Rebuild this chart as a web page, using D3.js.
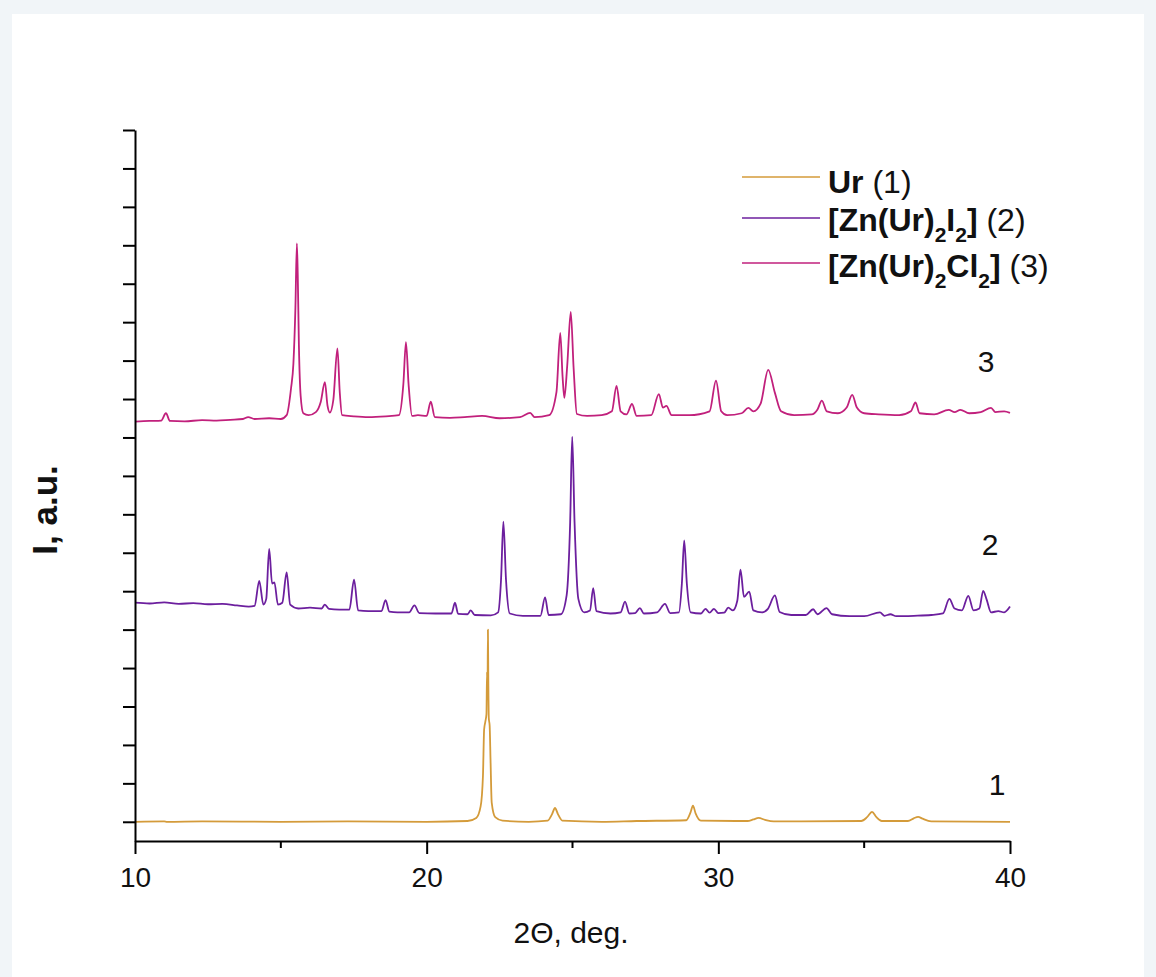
<!DOCTYPE html>
<html>
<head>
<meta charset="utf-8">
<script src="https://cdn.jsdelivr.net/npm/d3@7"></script>
<style>
  body { margin: 0; background: #f1f5f8; }
  svg { display: block; font-family: "Liberation Sans", Arial, sans-serif; }
</style>
</head>
<body>
<svg id="chart" width="1156" height="977"></svg>
<script>
// 2theta ticks
const xMajorTicks = [10, 20, 30, 40];
const xMinorTicks = [15, 25, 35];
// y axis has unlabeled ticks, one per a.u.
const yTicks = d3.range(0, 19);

// vertical offsets of the stacked patterns (a.u.)
const offsets = [0, 5.3, 10.38];
const seriesNames = ['Ur (1)', '[Zn(Ur)2I2] (2)', '[Zn(Ur)2Cl2] (3)'];
const seriesColors = ['#d49b3a', '#6c1f9e', '#c1207c'];
const seriesNumbers = ['1', '2', '3'];

// Ur (1): [2theta, intensity]
const urData = [
  [10, 0], [11.0, 0.01], [11.1, 0], [12.3, 0.01], [15, 0], [17.3, 0.01], [20, 0],
  [21.4, 0.02], [21.7, 0.1], [21.85, 0.4], [21.93, 1.2], [21.97, 2.4], [22.01, 2.6],
  [22.05, 2.8], [22.07, 3.9], [22.085, 3.2], [22.10, 5.0], [22.115, 3.6], [22.13, 2.7],
  [22.16, 2.5], [22.19, 1.6], [22.23, 0.5], [22.35, 0.12], [22.6, 0.03], [23.5, 0],
  [24.15, 0.03], [24.3, 0.2], [24.4, 0.36], [24.5, 0.2], [24.65, 0.03], [26, 0],
  [27.2, 0.02], [28.9, 0.04], [29.05, 0.25], [29.13, 0.42], [29.22, 0.22], [29.4, 0.03],
  [31.0, 0.02], [31.2, 0.06], [31.38, 0.1], [31.6, 0.05], [31.9, 0.01], [34.9, 0.02],
  [35.1, 0.12], [35.27, 0.26], [35.42, 0.12], [35.6, 0.02], [36.5, 0.02], [36.7, 0.09],
  [36.85, 0.13], [37.0, 0.08], [37.3, 0.01], [40, 0]
];

// [Zn(Ur)2I2] (2)
const znIData = [
  [10, 0.40], [10.5, 0.38], [11, 0.41], [11.5, 0.37], [12, 0.39], [12.5, 0.36], [13, 0.37],
  [13.5, 0.33], [13.9, 0.30], [14.1, 0.32], [14.26, 0.97], [14.4, 0.35], [14.5, 0.5],
  [14.60, 1.80], [14.7, 0.9], [14.78, 0.93], [14.9, 0.35], [15.05, 0.4], [15.20, 1.19],
  [15.32, 0.35], [15.6, 0.25], [16.0, 0.27], [16.4, 0.25], [16.51, 0.35], [16.65, 0.24],
  [17.0, 0.22], [17.35, 0.22], [17.51, 1.00], [17.65, 0.2], [18.0, 0.18], [18.45, 0.18],
  [18.59, 0.47], [18.72, 0.17], [19.0, 0.15], [19.4, 0.15], [19.58, 0.33], [19.75, 0.13],
  [20.3, 0.12], [20.85, 0.12], [20.97, 0.40], [21.08, 0.11], [21.4, 0.1], [21.51, 0.2],
  [21.65, 0.08], [22.2, 0.07], [22.45, 0.15], [22.55, 1.0], [22.63, 2.51], [22.72, 1.0],
  [22.85, 0.12], [23.3, 0.06], [23.9, 0.06], [24.06, 0.54], [24.18, 0.08], [24.6, 0.1],
  [24.8, 0.6], [24.92, 2.5], [24.99, 4.72], [25.07, 2.5], [25.2, 0.5], [25.4, 0.15],
  [25.6, 0.2], [25.71, 0.78], [25.82, 0.18], [26.3, 0.12], [26.65, 0.15], [26.80, 0.43],
  [26.95, 0.12], [27.15, 0.13], [27.31, 0.26], [27.45, 0.12], [27.9, 0.15], [28.17, 0.37],
  [28.35, 0.13], [28.65, 0.15], [28.75, 0.9], [28.83, 2.02], [28.92, 0.9], [29.05, 0.15],
  [29.4, 0.12], [29.56, 0.24], [29.7, 0.14], [29.85, 0.24], [30.0, 0.13], [30.2, 0.14],
  [30.34, 0.27], [30.5, 0.2], [30.65, 0.45], [30.76, 1.26], [30.88, 0.55], [31.06, 0.69],
  [31.2, 0.2], [31.5, 0.15], [31.7, 0.24], [31.94, 0.59], [32.1, 0.16], [32.5, 0.08],
  [33.0, 0.08], [33.25, 0.23], [33.4, 0.1], [33.71, 0.26], [33.9, 0.1], [34.5, 0.05],
  [35.0, 0.05], [35.54, 0.15], [35.7, 0.06], [35.9, 0.1], [36.1, 0.05], [36.7, 0.06],
  [37.3, 0.08], [37.7, 0.12], [37.92, 0.50], [38.1, 0.25], [38.35, 0.2], [38.57, 0.58],
  [38.75, 0.2], [38.95, 0.25], [39.08, 0.71], [39.2, 0.48], [39.35, 0.15], [39.6, 0.18],
  [39.8, 0.15], [40, 0.30]
];

// [Zn(Ur)2Cl2] (3)
const znClData = [
  [10, 0.03], [10.5, 0.05], [10.9, 0.06], [11.06, 0.25], [11.2, 0.05], [11.7, 0.04],
  [12.3, 0.07], [12.8, 0.06], [13.26, 0.08], [13.7, 0.1], [13.88, 0.15], [14.1, 0.1],
  [14.6, 0.12], [15.0, 0.10], [15.2, 0.2], [15.35, 0.9], [15.43, 1.53], [15.5, 3.0],
  [15.55, 4.67], [15.58, 3.85], [15.62, 2.0], [15.68, 0.7], [15.77, 0.25], [15.95, 0.2],
  [16.2, 0.28], [16.37, 0.55], [16.51, 1.06], [16.6, 0.45], [16.68, 0.27], [16.8, 0.6],
  [16.94, 1.94], [17.02, 0.8], [17.1, 0.2], [17.5, 0.17], [18.0, 0.15], [18.6, 0.17],
  [19.05, 0.2], [19.2, 1.0], [19.29, 2.10], [19.38, 1.0], [19.5, 0.18], [19.7, 0.2],
  [20.0, 0.18], [20.14, 0.55], [20.28, 0.15], [20.8, 0.13], [21.3, 0.15], [21.9, 0.18],
  [22.5, 0.12], [23.2, 0.15], [23.55, 0.26], [23.7, 0.15], [24.2, 0.2], [24.45, 0.8],
  [24.58, 2.34], [24.66, 1.2], [24.72, 0.65], [24.82, 1.5], [24.94, 2.89], [25.04, 1.4],
  [25.15, 0.23], [25.5, 0.18], [26.0, 0.2], [26.35, 0.3], [26.51, 0.96], [26.65, 0.3],
  [26.85, 0.22], [27.04, 0.49], [27.2, 0.18], [27.7, 0.2], [27.96, 0.75], [28.1, 0.4],
  [28.22, 0.44], [28.4, 0.2], [29.0, 0.2], [29.7, 0.3], [29.92, 1.10], [30.1, 0.3],
  [30.3, 0.2], [30.8, 0.25], [31.03, 0.39], [31.2, 0.3], [31.45, 0.5], [31.71, 1.38],
  [31.94, 0.78], [32.15, 0.3], [32.6, 0.2], [33.2, 0.22], [33.4, 0.35], [33.55, 0.58],
  [33.72, 0.3], [34.1, 0.25], [34.4, 0.4], [34.59, 0.73], [34.75, 0.4], [35.0, 0.25],
  [35.5, 0.22], [36.2, 0.2], [36.6, 0.3], [36.76, 0.53], [36.9, 0.25], [37.4, 0.22],
  [37.9, 0.34], [38.1, 0.28], [38.3, 0.34], [38.6, 0.25], [39.0, 0.28], [39.35, 0.39],
  [39.5, 0.28], [39.8, 0.3], [40, 0.26]
];

const seriesData = [urData, znIData, znClData];

class XrdChart {
  constructor(_config) {
    this.config = {
      parentElement: _config.parentElement,
      width: 1156,
      height: 977
    };
    this.initVis();
  }

  initVis() {
    let vis = this;
    vis.svg = d3.select(vis.config.parentElement);

    // light page with white card behind the plot
    vis.svg.append('rect')
      .attr('width', vis.config.width).attr('height', vis.config.height)
      .attr('fill', '#f1f5f8');
    vis.svg.append('rect')
      .attr('x', 12).attr('y', 14)
      .attr('width', 1132).attr('height', 963)
      .attr('fill', '#ffffff');

    vis.xScale = d3.scaleLinear().domain([10, 40]).range([135, 1010]);
    vis.yScale = d3.scaleLinear().domain([-0.5, 18]).range([841, 130]);

    vis.line = d3.line()
      .x(d => vis.xScale(d[0]))
      .y(d => vis.yScale(d[1] + d[2]))
      .curve(d3.curveMonotoneX);

    vis.renderVis();
  }

  renderVis() {
    let vis = this;

    // patterns, top one drawn last
    seriesData.forEach((data, i) => {
      vis.svg.append('path')
        .datum(data.map(d => [d[0], d[1], offsets[i]]))
        .attr('fill', 'none')
        .attr('stroke', seriesColors[i])
        .attr('stroke-width', 1.8)
        .attr('stroke-linejoin', 'round')
        .attr('d', vis.line);
    });

    // x axis: major ticks labeled, minor ticks shorter
    const xAxis = vis.svg.append('g')
      .attr('transform', `translate(0,${vis.yScale(-0.5)})`)
      .call(d3.axisBottom(vis.xScale).tickValues(xMajorTicks).tickSize(13).tickSizeOuter(0).tickPadding(13));
    xAxis.select('.domain').attr('stroke-width', 2);
    xAxis.selectAll('.tick line').attr('stroke-width', 2);
    xAxis.selectAll('.tick text')
      .attr('font-size', 28).attr('font-family', '"Liberation Sans", Arial, sans-serif').attr('fill', '#111');

    vis.svg.append('g')
      .attr('transform', `translate(0,${vis.yScale(-0.5)})`)
      .selectAll('line')
      .data(xMinorTicks)
      .join('line')
        .attr('x1', d => vis.xScale(d)).attr('x2', d => vis.xScale(d))
        .attr('y1', 0).attr('y2', 7)
        .attr('stroke', '#000').attr('stroke-width', 2);

    // y axis without labels
    const yAxis = vis.svg.append('g')
      .attr('transform', `translate(${vis.xScale(10)},0)`)
      .call(d3.axisLeft(vis.yScale).tickValues(yTicks).tickSize(12).tickSizeOuter(0).tickFormat(''));
    yAxis.select('.domain').attr('stroke-width', 2);
    yAxis.selectAll('.tick line').attr('stroke-width', 2);

    // axis titles
    vis.svg.append('text')
      .attr('x', 571).attr('y', 943)
      .attr('text-anchor', 'middle')
      .attr('font-size', 30)
      .attr('fill', '#111')
      .text('2\u0398, deg.');

    vis.svg.append('text')
      .attr('transform', 'translate(57,510) rotate(-90)')
      .attr('text-anchor', 'middle')
      .attr('font-size', 35)
      .attr('font-weight', 'bold')
      .attr('fill', '#111')
      .text('I, a.u.');

    // curve numbers
    const numPos = [[997, 795], [990, 555], [986, 372]];
    vis.svg.selectAll('.curve-num')
      .data(seriesNumbers)
      .join('text')
        .attr('class', 'curve-num')
        .attr('x', (d, i) => numPos[i][0])
        .attr('y', (d, i) => numPos[i][1])
        .attr('text-anchor', 'middle')
        .attr('font-size', 30)
        .attr('fill', '#111')
        .text(d => d);

    vis.renderLegend();
  }

  renderLegend() {
    let vis = this;
    const lineY = [177, 218, 263];
    const textY = [193, 231, 277];
    const parts = [
      [['Ur', true, false], [' (1)', false, false]],
      [['[Zn(Ur)', true, false], ['2', true, true], ['I', true, false], ['2', true, true], [']', true, false], [' (2)', false, false]],
      [['[Zn(Ur)', true, false], ['2', true, true], ['Cl', true, false], ['2', true, true], [']', true, false], [' (3)', false, false]]
    ];

    seriesNames.forEach((name, i) => {
      vis.svg.append('line')
        .attr('x1', 742).attr('x2', 820)
        .attr('y1', lineY[i]).attr('y2', lineY[i])
        .attr('stroke', seriesColors[i])
        .attr('stroke-width', 1.6);

      const t = vis.svg.append('text')
        .attr('x', 828).attr('y', textY[i])
        .attr('font-size', 32)
        .attr('fill', '#111');

      let shifted = false;
      parts[i].forEach(p => {
        const span = t.append('tspan')
          .attr('font-weight', p[1] ? 'bold' : 'normal')
          .text(p[0]);
        if (p[2]) {
          span.attr('font-size', 21).attr('dy', 11);
          shifted = true;
        } else if (shifted) {
          span.attr('dy', -11);
          shifted = false;
        }
      });
    });
  }
}

new XrdChart({ parentElement: '#chart' });
</script>
</body>
</html>
